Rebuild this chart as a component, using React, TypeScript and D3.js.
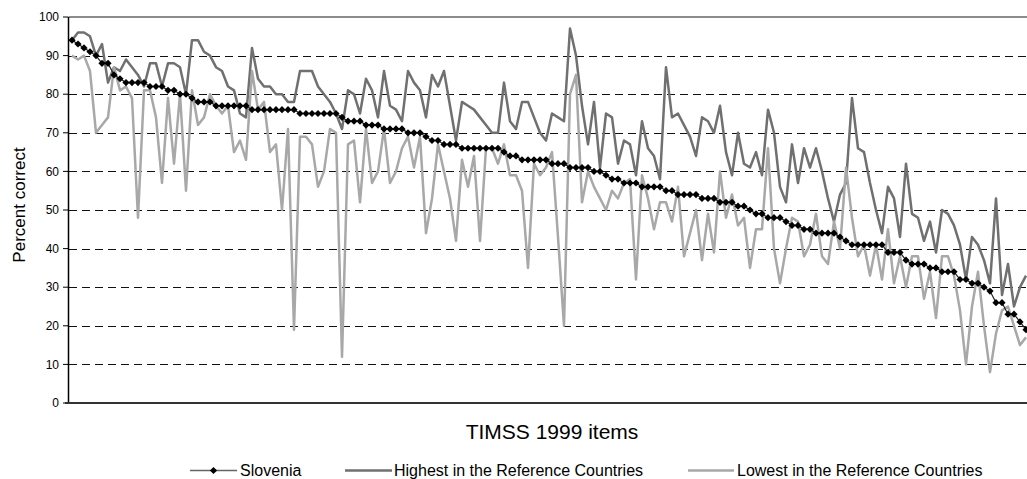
import React from 'react';
import * as d3 from 'd3';

const slovenia: number[] = [
  94, 93, 92, 91, 90, 88, 88, 85, 84, 83, 83, 83, 83, 82, 82, 82, 81, 81, 80, 80,
  79, 78, 78, 78, 77, 77, 77, 77, 77, 77, 76, 76, 76, 76, 76, 76, 76, 76, 75, 75,
  75, 75, 75, 75, 75, 74, 73, 73, 73, 72, 72, 72, 71, 71, 71, 71, 70, 70, 70, 69,
  68, 68, 67, 67, 67, 66, 66, 66, 66, 66, 66, 66, 65, 64, 64, 63, 63, 63, 63, 63,
  62, 62, 62, 61, 61, 61, 61, 60, 60, 59, 58, 58, 57, 57, 57, 56, 56, 56, 56, 55,
  55, 54, 54, 54, 54, 53, 53, 53, 52, 52, 52, 51, 51, 50, 49, 49, 48, 48, 48, 47,
  46, 46, 45, 45, 44, 44, 44, 44, 43, 42, 41, 41, 41, 41, 41, 41, 39, 39, 39, 37,
  36, 36, 36, 35, 35, 34, 34, 34, 32, 32, 31, 31, 30, 29, 26, 26, 23, 23, 21, 19,
];

const highest: number[] = [
  94, 96, 96, 95, 90, 93, 83, 87, 86, 89, 87, 85, 82, 88, 88, 82, 88, 88, 87, 80,
  94, 94, 91, 90, 87, 86, 82, 81, 75, 74, 92, 84, 82, 82, 80, 80, 78, 78, 86, 86,
  86, 82, 80, 78, 75, 71, 81, 80, 75, 84, 81, 74, 86, 77, 76, 73, 86, 83, 81, 74,
  85, 82, 86, 77, 68, 78, 77, 76, 74, 72, 70, 70, 83, 73, 71, 78, 78, 74, 70, 68,
  75, 74, 73, 97, 90, 77, 67, 78, 61, 75, 74, 62, 68, 67, 59, 73, 66, 64, 58, 87,
  74, 75, 72, 69, 64, 74, 73, 70, 77, 65, 59, 70, 62, 61, 65, 59, 76, 70, 56, 52,
  67, 57, 66, 61, 66, 60, 53, 47, 54, 57, 79, 66, 65, 57, 50, 44, 56, 53, 43, 62,
  49, 48, 42, 47, 39, 50, 49, 46, 41, 32, 43, 41, 37, 31, 53, 28, 36, 25, 30, 33,
];

const lowest: number[] = [
  90, 89, 90, 86, 70, 72, 74, 87, 81, 82, 79, 48, 81, 81, 74, 57, 79, 62, 80, 55,
  81, 72, 74, 80, 77, 75, 77, 65, 68, 63, 86, 76, 78, 65, 67, 50, 71, 19, 69, 69,
  67, 56, 60, 71, 70, 12, 67, 68, 52, 71, 57, 60, 71, 57, 60, 66, 69, 61, 69, 44,
  53, 67, 60, 53, 42, 63, 56, 64, 42, 66, 66, 62, 67, 59, 59, 55, 35, 62, 59, 61,
  65, 43, 20, 80, 85, 52, 60, 56, 53, 50, 55, 53, 57, 58, 32, 59, 53, 45, 52, 52,
  47, 56, 38, 44, 50, 37, 49, 39, 60, 48, 54, 46, 48, 35, 45, 45, 66, 40, 31, 40,
  48, 47, 38, 41, 49, 38, 36, 47, 40, 61, 48, 38, 41, 33, 41, 32, 45, 31, 38, 30,
  38, 38, 27, 34, 22, 38, 38, 33, 24, 10, 25, 34, 20, 8, 18, 24, 25, 20, 15, 17,
];

const yTicks: number[] = [0, 10, 20, 30, 40, 50, 60, 70, 80, 90, 100];
const seriesNames: string[] = [
  'Slovenia',
  'Highest in the Reference Countries',
  'Lowest in the Reference Countries',
];
const xTitle = 'TIMSS 1999 items';
const yTitle = 'Percent correct';

const FONT = 'Arial, "Liberation Sans", Helvetica, sans-serif';

export default function App() {
  const W = 1027;
  const H = 479;
  const plotL = 69;
  const plotR = 1029;
  const plotT = 17;
  const plotB = 403;

  const items = slovenia.map((_, i) => i);
  const x = d3.scaleBand<number>().domain(items).range([plotL, plotR]).padding(0);
  const cx = (i: number) => (x(i) as number) + x.bandwidth() / 2;
  const y = d3.scaleLinear().domain([0, 100]).range([plotB, plotT]);

  const lineGen = d3
    .line<number>()
    .x((_, i) => cx(i))
    .y((d) => y(d));

  const r = 3.6;
  const diamond = `M0,${-r}L${r},0L0,${r}L${-r},0Z`;

  return (
    <div style={{ position: 'absolute', left: 0, top: 0 }}>
      <svg width={W} height={H} style={{ display: 'block', background: '#fff' }} fontFamily={FONT}>
        {/* gridlines */}
        {yTicks
          .filter((t) => t > 0 && t < 100)
          .map((t) => (
            <line
              key={'g' + t}
              x1={plotL}
              x2={W}
              y1={Math.round(y(t)) + 0.5}
              y2={Math.round(y(t)) + 0.5}
              stroke="#111"
              strokeWidth={1}
              strokeDasharray="8,5"
            />
          ))}
        {/* top border */}
        <line x1={plotL} x2={W} y1={plotT} y2={plotT} stroke="#8c8c8c" strokeWidth={2} />

        {/* series lines */}
        <path d={lineGen(highest) || ''} fill="none" stroke="#707070" strokeWidth={2.5} strokeLinejoin="round" />
        <path d={lineGen(lowest) || ''} fill="none" stroke="#a8a8a8" strokeWidth={2.5} strokeLinejoin="round" />
        <path d={lineGen(slovenia) || ''} fill="none" stroke="#222" strokeWidth={1.2} />
        {slovenia.map((v, i) => (
          <path key={'m' + i} d={diamond} transform={`translate(${cx(i)},${y(v)})`} fill="#000" />
        ))}

        {/* y axis */}
        <line x1={plotL - 0.5} x2={plotL - 0.5} y1={plotT} y2={plotB} stroke="#000" strokeWidth={1.5} />
        {yTicks.map((t) => (
          <g key={'t' + t}>
            <line x1={plotL - 6} x2={plotL - 0.5} y1={y(t)} y2={y(t)} stroke="#000" strokeWidth={1} />
            <text x={59} y={y(t)} dy="0.35em" textAnchor="end" fontSize={12} fill="#000">
              {t}
            </text>
          </g>
        ))}
        {/* x axis */}
        <line x1={plotL - 4} x2={W} y1={plotB} y2={plotB} stroke="#333" strokeWidth={2} />

        {/* titles */}
        <text x={552} y={439} textAnchor="middle" fontSize={21} fill="#000">
          {xTitle}
        </text>
        <text transform={`translate(25,205) rotate(-90)`} textAnchor="middle" fontSize={17} fill="#000">
          {yTitle}
        </text>

        {/* legend */}
        <g>
          <line x1={190} x2={237} y1={470.5} y2={470.5} stroke="#666" strokeWidth={1.5} />
          <path d={diamond} transform="translate(213.5,470.5)" fill="#000" />
          <text x={240} y={476} fontSize={16} fill="#000">
            {seriesNames[0]}
          </text>
          <line x1={345} x2={392} y1={470.5} y2={470.5} stroke="#707070" strokeWidth={2.5} />
          <text x={394} y={476} fontSize={16} fill="#000">
            {seriesNames[1]}
          </text>
          <line x1={688} x2={734} y1={470.5} y2={470.5} stroke="#a8a8a8" strokeWidth={2.5} />
          <text x={737} y={476} fontSize={16} fill="#000">
            {seriesNames[2]}
          </text>
        </g>
      </svg>
    </div>
  );
}
